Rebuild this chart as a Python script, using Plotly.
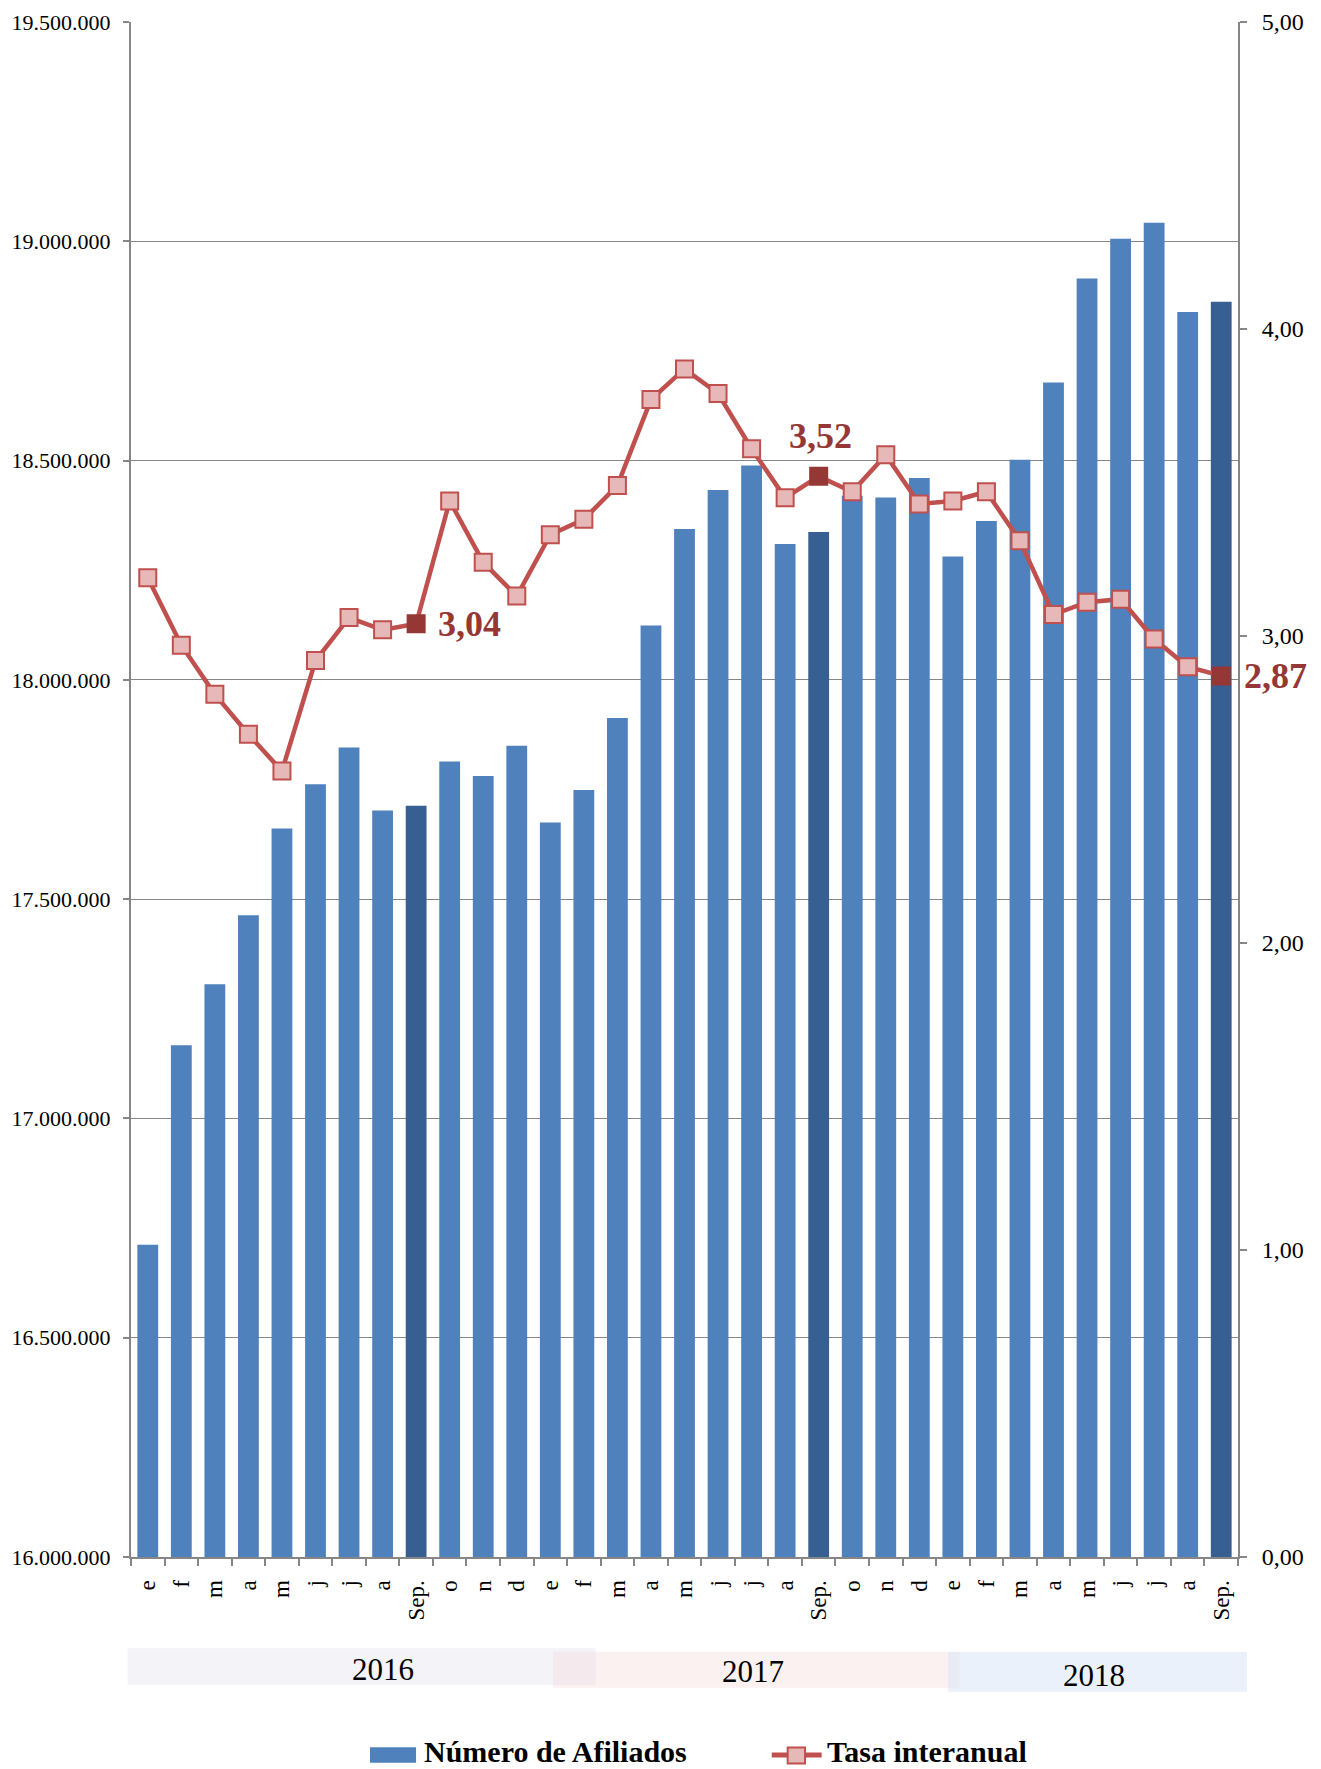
"""
Afiliados a la Seguridad Social y tasa interanual
"""
import plotly.graph_objects as go

meses = ["e", "f", "m", "a", "m", "j", "j", "a", "Sep.", "o", "n", "d",
         "e", "f", "m", "a", "m", "j", "j", "a", "Sep.", "o", "n", "d",
         "e", "f", "m", "a", "m", "j", "j", "a", "Sep."]
anios = ["2016", "2017", "2018"]
series = ["Número de Afiliados", "Tasa interanual"]

afiliados = [16712000, 17167000, 17306000, 17463000, 17661000, 17762000,
             17846000, 17702000, 17713000, 17814000, 17781000, 17850000,
             17675000, 17749000, 17913000, 18124000, 18344000, 18433000,
             18489000, 18310000, 18337000, 18420000, 18416000, 18460000,
             18281000, 18362000, 18502000, 18678000, 18915000, 19006000,
             19042000, 18839000, 18862000]

tasa = [3.19, 2.97, 2.81, 2.68, 2.56, 2.92, 3.06, 3.02, 3.04, 3.44, 3.24,
        3.13, 3.33, 3.38, 3.49, 3.77, 3.87, 3.79, 3.61, 3.45, 3.52, 3.47,
        3.59, 3.43, 3.44, 3.47, 3.31, 3.07, 3.11, 3.12, 2.99, 2.90, 2.87]

FONT = "Liberation Serif"
GRIS = "#868686"
AZUL = "#4F81BD"
ROJO = "#C0504D"
ROSA = "#E6B9B8"
GRANATE = "#953735"

x = list(range(len(meses)))
es_sep = [m == "Sep." for m in meses]

color_barras = ["#375F91" if s else AZUL for s in es_sep]
color_marcas = [GRANATE if s else ROSA for s in es_sep]
borde_marcas = [GRANATE if s else ROJO for s in es_sep]

fig = go.Figure()

fig.add_trace(go.Bar(
    x=x, y=afiliados, name=series[0],
    marker=dict(color=color_barras, line=dict(width=0)),
    yaxis="y",
))

fig.add_trace(go.Scatter(
    x=x, y=tasa, name=series[1], mode="lines+markers",
    line=dict(color=ROJO, width=4.5),
    marker=dict(symbol="square", size=17, color=color_marcas,
                line=dict(color=borde_marcas, width=2)),
    yaxis="y2",
))

# etiquetas de los meses de septiembre
sep_idx = [i for i, s in enumerate(es_sep) if s]
posiciones = [dict(xanchor="left", yanchor="middle", xshift=20, yshift=0),
              dict(xanchor="center", yanchor="middle", xshift=2, yshift=40),
              dict(xanchor="left", yanchor="middle", xshift=21, yshift=0)]
for i, p in zip(sep_idx, posiciones):
    fig.add_annotation(
        x=i, y=tasa[i], xref="x", yref="y2",
        text="<b>" + f"{tasa[i]:.2f}".replace(".", ",") + "</b>",
        showarrow=False,
        font=dict(family=FONT, size=36, color=GRANATE),
        **p
    )

# bandas de los años (coordenadas de papel, pueden salir del eje)
bandas = [(-0.003, 0.4197, -0.0595, -0.0834, "rgba(228,228,240,0.45)"),
          (0.3812, 0.7485, -0.0617, -0.0851, "rgba(246,224,224,0.45)"),
          (0.7379, 1.008, -0.0619, -0.0878, "rgba(214,228,248,0.5)")]
centros = [(7.02, -0.0730), (18.05, -0.0743), (28.21, -0.0769)]
for (x0, x1, y1, y0, col), (cx, cy), anio in zip(bandas, centros, anios):
    fig.add_shape(type="rect", xref="paper", yref="paper",
                  x0=x0, x1=x1, y0=y0, y1=y1,
                  fillcolor=col, line=dict(width=0), layer="below")
    fig.add_annotation(x=cx, y=cy, xref="x", yref="paper", text=anio,
                       showarrow=False, yanchor="middle",
                       font=dict(family=FONT, size=31, color="#000000"))

# leyenda dibujada a mano (rectangulo azul ancho como en el original)
ley_y = -0.1290
fig.add_shape(type="rect", xref="paper", yref="paper",
              x0=0.2159, x1=0.2575, y0=-0.1340, y1=-0.1240,
              fillcolor=AZUL, line=dict(width=0))
fig.add_shape(type="line", xref="paper", yref="paper",
              x0=0.5788, x1=0.6239, y0=ley_y, y1=ley_y,
              line=dict(color=ROJO, width=5))
fig.add_shape(type="rect", xref="paper", yref="paper",
              x0=0.5932, x1=0.6089, y0=-0.1345, y1=-0.1241,
              fillcolor=ROSA, line=dict(color=ROJO, width=2))
for xt, nombre in zip([0.2626, 0.6269], series):
    fig.add_annotation(x=xt, y=-0.1270, xref="paper", yref="paper",
                       text="<b>" + nombre + "</b>", showarrow=False,
                       xanchor="left", yanchor="middle",
                       font=dict(family=FONT, size=30, color="#000000"))

fig.update_layout(
    width=1321, height=1769,
    margin=dict(l=123, r=91, t=14, b=220),
    paper_bgcolor="white", plot_bgcolor="white",
    separators=",.",
    bargap=0.38,
    showlegend=False,
    xaxis=dict(
        range=[-0.5, len(meses) - 0.5], automargin=False,
        tickmode="array", tickvals=x, ticktext=meses,
        tickangle=-90, ticks="", ticklabelstandoff=12,
        tickfont=dict(family=FONT, size=23, color="#000000"),
        showline=True, linecolor=GRIS, linewidth=2,
        showgrid=False, zeroline=False,
        minor=dict(tickmode="array",
                   tickvals=[i - 0.5 for i in range(len(meses) + 1)],
                   ticks="outside", ticklen=7, tickcolor=GRIS, tickwidth=1.5,
                   showgrid=False),
    ),
    yaxis=dict(
        range=[16000000, 19500000], dtick=500000, tick0=16000000,
        tickformat=",.0f", automargin=False,
        tickfont=dict(family=FONT, size=22, color="#000000"),
        ticks="outside", ticklen=6, tickcolor=GRIS, tickwidth=1.5,
        ticklabelstandoff=8,
        showline=True, linecolor=GRIS, linewidth=2,
        showgrid=True, gridcolor=GRIS, gridwidth=1.3,
        zeroline=False,
    ),
    yaxis2=dict(
        range=[0, 5], dtick=1, tick0=0, tickformat=".2f",
        overlaying="y", side="right", automargin=False,
        tickfont=dict(family=FONT, size=24, color="#000000"),
        ticks="outside", ticklen=7, tickcolor=GRIS, tickwidth=1.5,
        ticklabelstandoff=10,
        showline=True, linecolor=GRIS, linewidth=2,
        showgrid=False, zeroline=False,
    ),
)

fig.write_html("out.html")
